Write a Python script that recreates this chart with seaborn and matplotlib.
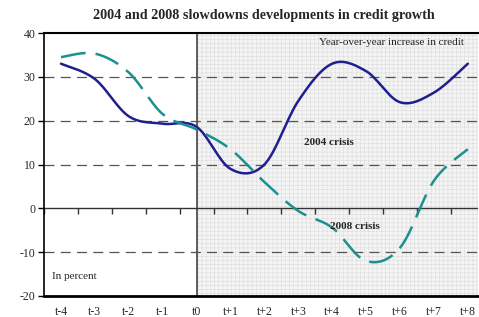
import numpy as np
import pandas as pd
import matplotlib
matplotlib.use("Agg")
import matplotlib.pyplot as plt
import seaborn as sns

periods = ["t-4", "t-3", "t-2", "t-1", "t0", "t+1", "t+2", "t+3", "t+4", "t+5", "t+6", "t+7", "t+8"]
crisis_2004 = [33.0, 29.5, 21.0, 19.3, 18.6, 9.0, 10.0, 24.5, 33.0, 31.3, 24.2, 26.4, 33.0]
crisis_2008 = [34.5, 35.3, 31.0, 21.5, 18.0, 13.5, 6.0, -0.6, -4.4, -12.0, -9.0, 6.3, 13.5]
y_ticks = [-20, -10, 0, 10, 20, 30, 40]

sns.set_theme(style="white")
plt.rcParams['font.family'] = ['Liberation Serif', 'DejaVu Serif']
plt.rcParams['hatch.linewidth'] = 0.4
plt.rcParams['hatch.color'] = '#d8d8d8'


def smooth(vals, n=30):
    # Excel-style smoothed line (uniform Catmull-Rom / Bezier) for display
    p = np.asarray(vals, float)
    x = np.arange(len(p), dtype=float)
    pe = np.concatenate([[p[0]], p, [p[-1]]])
    xe = np.concatenate([[x[0]], x, [x[-1]]])
    xs, ys = [], []
    t = np.linspace(0, 1, n, endpoint=False)
    for i in range(len(p) - 1):
        P0x, P1x, P2x, P3x = xe[i], xe[i + 1], xe[i + 2], xe[i + 3]
        P0y, P1y, P2y, P3y = pe[i], pe[i + 1], pe[i + 2], pe[i + 3]
        c1x = P1x + (P2x - P0x) / 6; c1y = P1y + (P2y - P0y) / 6
        c2x = P2x - (P3x - P1x) / 6; c2y = P2y - (P3y - P1y) / 6
        bx = (1 - t) ** 3 * P1x + 3 * (1 - t) ** 2 * t * c1x + 3 * (1 - t) * t ** 2 * c2x + t ** 3 * P2x
        by = (1 - t) ** 3 * P1y + 3 * (1 - t) ** 2 * t * c1y + 3 * (1 - t) * t ** 2 * c2y + t ** 3 * P2y
        xs.extend(bx); ys.extend(by)
    xs.append(x[-1]); ys.append(p[-1])
    return np.array(xs), np.array(ys)


fig = plt.figure(figsize=(4.79, 3.17), dpi=100)
ax = fig.add_axes([44 / 479, 21 / 317, 434 / 479, 263 / 317])
ax.set_xlim(-0.5, 12.3)
ax.set_ylim(-20, 40)

# shaded post-crisis area
ax.axvspan(4, 12.3, facecolor='#f4f4f4', hatch='++++', edgecolor='#dcdcdc', linewidth=0, zorder=0)
ax.axvline(4, color='#444444', lw=1.2, zorder=1)

# gridlines
for yv in [30, 20, 10, -10]:
    ax.axhline(yv, color='#555555', lw=0.9, dashes=(8, 5), zorder=1)
ax.axhline(0, color='#333333', lw=1.0, zorder=1)

x1, y1 = smooth(crisis_2004)
x2, y2 = smooth(crisis_2008)
df1 = pd.DataFrame({"x": x1, "y": y1})
df2 = pd.DataFrame({"x": x2, "y": y2})
sns.lineplot(data=df1, x="x", y="y", ax=ax, color='#1f1f8f', lw=1.8, sort=False, zorder=3)
sns.lineplot(data=df2, x="x", y="y", ax=ax, color='#1a9090', lw=1.8, sort=False, zorder=3)
ax.lines[-1].set_dashes((10, 4))

ax.set_xlabel("")
ax.set_ylabel("")
ax.set_xticks(range(len(periods)))
ax.set_xticklabels(periods, fontsize=8.5)
ax.tick_params(axis='x', length=0, pad=7)
ax.set_yticks(y_ticks)
ax.set_yticklabels([str(v) for v in y_ticks], fontsize=8.5)
ax.tick_params(axis='y', direction='out', length=4, width=1, color='black', left=True, pad=2)

# boundary tick marks on zero line
sec = ax.secondary_xaxis(20 / 60)
sec.set_xticks([i + 0.5 for i in range(-1, 12)])
sec.set_xticklabels([])
sec.tick_params(direction='out', length=4, width=1, color='#333333')
sec.spines['bottom'].set_visible(False)

for s in ['left', 'top', 'bottom']:
    ax.spines[s].set_color('black')
ax.spines['left'].set_linewidth(1.2)
ax.spines['top'].set_linewidth(1.5)
ax.spines['bottom'].set_linewidth(2.0)
ax.spines['right'].set_visible(False)

ax.text(9.75, 37.9, "Year-over-year increase in credit", fontsize=8, ha='center', va='center')
ax.text(7.9, 15.1, "2004 crisis", fontsize=8, fontweight='bold', ha='center', va='center')
ax.text(8.67, -4.1, "2008 crisis", fontsize=8, fontweight='bold', ha='center', va='center')
ax.text(-0.25, -15.5, "In percent", fontsize=8, ha='left', va='center')

fig.text(264 / 479, 1 - 15 / 317, "2004 and 2008 slowdowns developments in credit growth",
         fontsize=10.2, fontweight='bold', ha='center', va='center')

fig.savefig("out.png", dpi=100)
